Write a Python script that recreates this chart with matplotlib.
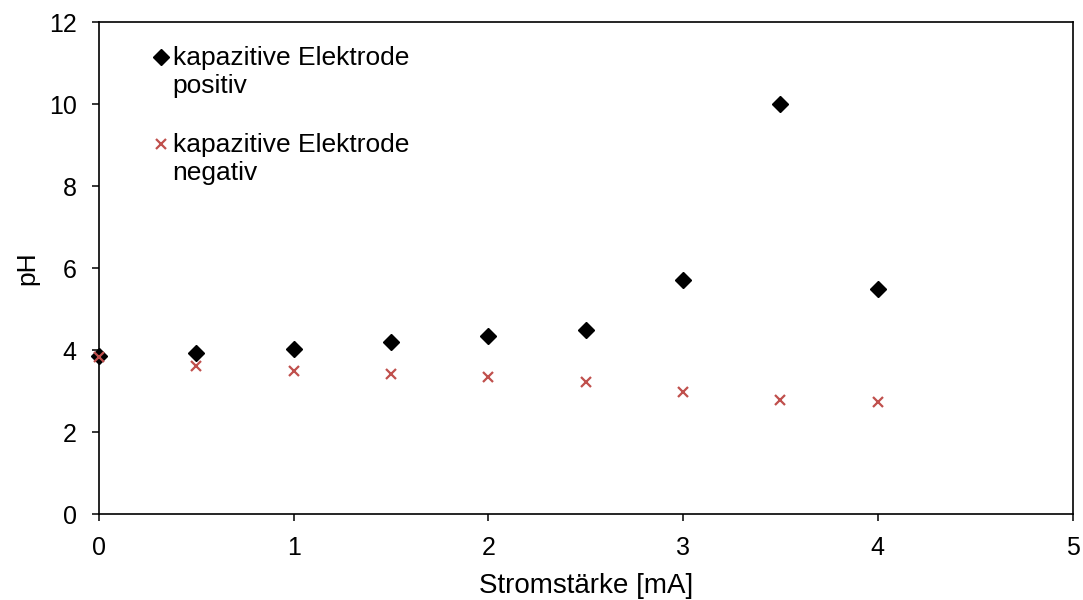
import matplotlib
matplotlib.use("Agg")
import matplotlib.pyplot as plt

plt.rcParams['font.family'] = ['Liberation Sans', 'DejaVu Sans']

# Stromstärke in mA
strom = [0, 0.5, 1, 1.5, 2, 2.5, 3, 3.5, 4]
# pH an der kapazitiven Elektrode
ph_positiv = [3.85, 3.92, 4.02, 4.19, 4.34, 4.49, 5.70, 9.99, 5.48]
ph_negativ = [3.84, 3.61, 3.49, 3.41, 3.33, 3.23, 2.98, 2.78, 2.72]

label_pos = "kapazitive Elektrode\npositiv"
label_neg = "kapazitive Elektrode\nnegativ"

x_ticks = [0, 1, 2, 3, 4, 5]
y_ticks = [0, 2, 4, 6, 8, 10, 12]

col_pos = "#000000"
col_neg = "#C0504D"

fig = plt.figure(figsize=(10.83, 6.0), dpi=100)
ax = fig.add_axes([99 / 1083, 86 / 600, 973.5 / 1083, 492 / 600])

ax.plot(strom, ph_positiv, linestyle="none", marker="D", ms=8,
        color=col_pos, clip_on=False, zorder=3)
ax.plot(strom, ph_negativ, linestyle="none", marker="x", ms=7.5, mew=1.6,
        color=col_neg, clip_on=False, zorder=4)

ax.set_xlim(0, 5)
ax.set_ylim(0, 12)
ax.set_xticks(x_ticks)
ax.set_yticks(y_ticks)
ax.set_xticklabels([str(v) for v in x_ticks])
ax.set_yticklabels([str(v) for v in y_ticks])

for side in ("left", "bottom", "top", "right"):
    ax.spines[side].set_linewidth(1.2)
    ax.spines[side].set_color("black")

ax.tick_params(axis="both", direction="out", length=5, width=1.1,
               labelsize=18, colors="black", pad=11)

ax.set_xlabel("Stromstärke [mA]", fontsize=20, labelpad=9)
ax.set_ylabel("pH", fontsize=19, labelpad=7)

# Legende: Symbol neben der ersten Textzeile
entries = [("D", 8, 1.0, col_pos, label_pos, 0.928, 0.951),
           ("x", 7.5, 1.6, col_neg, label_neg, 0.753, 0.7744)]
for marker, ms, mew, color, text, ym, yt in entries:
    ax.plot([0.0637], [ym], transform=ax.transAxes, linestyle="none",
            marker=marker, ms=ms, mew=mew, color=color, clip_on=False)
    ax.text(0.0757, yt, text, transform=ax.transAxes, fontsize=19,
            va="top", ha="left", linespacing=1.22)

fig.savefig("out.png", dpi=100)
